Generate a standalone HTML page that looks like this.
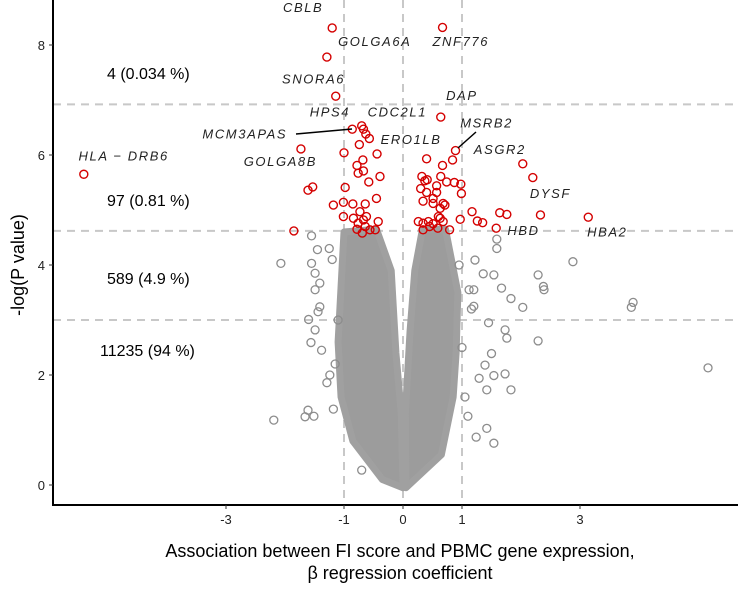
<!DOCTYPE html>
<html><head><meta charset="utf-8">
<style>
html,body{margin:0;padding:0;background:#fff;}
svg{display:block;font-family:"Liberation Sans",Arial,sans-serif;}
.gl{font-style:italic;font-size:13px;fill:#222;letter-spacing:1.6px;}
.ann{font-size:16px;fill:#000;}
.tk{font-size:13px;fill:#222;}
</style></head>
<body>
<svg id="chart" width="744" height="593" viewBox="0 0 744 593" xmlns="http://www.w3.org/2000/svg">
<g id="grid"></g>
<g id="core"></g>
<g id="gray"></g>
<g id="red"></g>
<g id="axes"></g>
<g id="labels"></g>
<text class="ann" x="107" y="79">4 (0.034 %)</text>
<text class="ann" x="107" y="206">97 (0.81 %)</text>
<text class="ann" x="107" y="284">589 (4.9 %)</text>
<text class="ann" x="100" y="356">11235 (94 %)</text>
<text x="0" y="0" transform="translate(24,265) rotate(-90)" text-anchor="middle" font-size="18" fill="#000">-log(P value)</text>
<text x="400" y="557" text-anchor="middle" font-size="18" fill="#000">Association between FI score and PBMC gene expression,</text>
<text x="400" y="579" text-anchor="middle" font-size="18" fill="#000">β regression coefficient</text>
</svg>
<script>
const xTicks=[-3,-1,0,1,3];
const yTicks=[0,2,4,6,8];
const vLines=[-1,0,1];
const hLines=[6.92,4.62,3.0];
const leftLobeX=[-1.0,-0.45,-0.2,-0.12,-0.03,0,-0.35,-0.85,-1.05,-1.1,-1.05];
const leftLobeY=[4.6,4.65,3.9,2.4,1.3,-0.05,0.1,0.8,1.6,2.6,3.6];
const rightLobeX=[0.04,0.12,0.2,0.33,0.72,0.93,0.9,0.85,0.65,0.05];
const rightLobeY=[1.3,2.8,3.9,4.65,4.65,3.5,2.4,1.6,0.55,-0.05];
const grayX=[-2.19,-1.66,-1.51,-1.61,-1.18,-2.07,-1.55,-1.45,-1.55,-1.49,-1.41,-1.49,-1.41,-1.44,-1.60,-1.49,-1.56,-1.38,-1.24,-1.29,-1.2,-1.25,-0.70,1.59,1.59,2.88,2.29,2.38,2.39,1.83,2.03,1.67,1.54,1.36,1.22,1.45,1.73,1.76,2.29,1.50,1.39,1.73,1.54,1.83,1.42,1.29,1.42,1.24,1.54,1.10,1.12,1.2,1.16,1.2,3.9,3.87,5.17,-1.1,-1.15,1.0,1.05,0.95];
const grayY=[1.18,1.24,1.25,1.36,1.38,4.03,4.53,4.28,4.03,3.85,3.67,3.55,3.24,3.15,3.01,2.82,2.59,2.45,2.0,1.86,4.1,4.3,0.27,4.47,4.30,4.06,3.82,3.61,3.55,3.39,3.23,3.58,3.82,3.84,4.09,2.95,2.82,2.67,2.62,2.39,2.18,2.02,1.99,1.73,1.73,1.94,1.03,0.87,0.76,1.25,3.55,3.55,3.2,3.25,3.32,3.23,2.13,3.0,2.2,2.5,1.6,4.0];
const redX=[-1.20,-1.29,-1.14,-0.86,-5.41,-1.73,-1.61,-1.53,-1.85,-0.70,-0.67,-0.63,-0.57,-0.74,-1.00,-0.44,-0.68,-0.78,-0.67,-0.76,-0.39,-0.58,-0.98,-0.45,-1.18,-1.01,-0.85,-0.64,-0.73,-1.01,-0.84,-0.67,-0.42,-0.78,-0.56,-0.47,-0.64,-0.76,-0.62,-0.69,
0.67,0.64,0.89,0.84,0.40,0.67,2.03,2.20,0.64,0.32,0.37,0.41,0.74,0.87,0.98,0.57,0.30,0.99,0.57,0.40,0.51,0.34,0.51,0.68,0.71,0.63,1.17,1.64,1.76,2.33,3.14,0.60,0.97,1.26,1.35,0.63,0.68,0.26,0.34,0.43,0.51,0.34,0.59,0.79,1.58,0.45];
const redY=[8.31,7.78,7.07,6.47,5.65,6.11,5.36,5.42,4.62,6.53,6.47,6.38,6.30,6.19,6.04,6.02,5.91,5.81,5.71,5.67,5.61,5.51,5.41,5.21,5.09,5.14,5.11,5.11,4.97,4.88,4.85,4.82,4.79,4.65,4.64,4.64,4.70,4.76,4.88,4.58,
8.32,6.69,6.08,5.91,5.93,5.81,5.84,5.59,5.61,5.61,5.53,5.55,5.51,5.50,5.47,5.44,5.39,5.30,5.32,5.32,5.21,5.16,5.12,5.12,5.09,5.03,4.97,4.95,4.92,4.91,4.87,4.88,4.83,4.80,4.77,4.85,4.79,4.79,4.76,4.79,4.75,4.64,4.67,4.64,4.67,4.70];
const geneNames=["CBLB","GOLGA6A","ZNF776","SNORA6","DAP","HPS4","CDC2L1","MCM3APAS","MSRB2","ERO1LB","ASGR2","HLA − DRB6","GOLGA8B","DYSF","HBD","HBA2"];
const geneLX=[-1.35,-1.1,0.5,-2.05,0.73,-1.58,-0.6,-3.4,0.97,-0.38,1.2,-5.5,-2.7,2.15,1.77,3.12];
const geneLY=[8.6,7.98,7.98,7.3,7.0,6.7,6.7,6.3,6.5,6.2,6.02,5.9,5.8,5.22,4.55,4.52];
const geneAnchor=["end","start","start","start","start","start","start","start","start","start","start","start","start","start","start","start"];

const NS='http://www.w3.org/2000/svg';
const X0=403,XS=59,Y0=485,YS=55,L=53,R=738,B=505;
const sx=v=>X0+v*XS, sy=v=>Y0-v*YS;
function mk(tag,attrs,parent){const e=document.createElementNS(NS,tag);for(const k in attrs)e.setAttribute(k,attrs[k]);parent.appendChild(e);return e;}
const grid=document.getElementById('grid');
vLines.forEach(v=>{const e=mk('line',{x1:sx(v),x2:sx(v),y1:0,y2:B,stroke:'#c8c8c8','stroke-width':2,'stroke-dasharray':'8,6'},grid);

});
hLines.forEach(v=>{const e=mk('line',{x1:L,x2:R,y1:sy(v),y2:sy(v),stroke:'#c8c8c8','stroke-width':2,'stroke-dasharray':'8,6'},grid);

});
const core=document.getElementById('core');
[[leftLobeX,leftLobeY],[rightLobeX,rightLobeY]].forEach(([xs,ys])=>{
const pts=xs.map((x,i)=>sx(x)+','+sy(ys[i])).join(' ');
const e=mk('polygon',{points:pts,fill:'#9c9c9c',stroke:'#a0a0a0','stroke-width':7,'stroke-linejoin':'round'},core);

});
const gray=document.getElementById('gray');
grayX.forEach((x,i)=>{const e=mk('circle',{cx:sx(x),cy:sy(grayY[i]),r:4,fill:'none',stroke:'#8c8c8c','stroke-width':1.3},gray);

});
const red=document.getElementById('red');
redX.forEach((x,i)=>{const e=mk('circle',{cx:sx(x),cy:sy(redY[i]),r:4,fill:'none',stroke:'#d40000','stroke-width':1.4},red);

});
const axes=document.getElementById('axes');
mk('line',{x1:L,x2:L,y1:0,y2:B+1,stroke:'#000','stroke-width':2},axes);
mk('line',{x1:L-1,x2:R,y1:B,y2:B,stroke:'#000','stroke-width':2},axes);
xTicks.forEach(v=>{mk('line',{x1:sx(v),x2:sx(v),y1:B,y2:B+4,stroke:'#333'},axes);
const t=mk('text',{x:sx(v),y:B+19,'text-anchor':'middle',class:'tk'},axes);t.textContent=v;

});
yTicks.forEach(v=>{mk('line',{x1:L-4,x2:L,y1:sy(v),y2:sy(v),stroke:'#333'},axes);
const t=mk('text',{x:L-8,y:sy(v)+5,'text-anchor':'end',class:'tk'},axes);t.textContent=v;

});
const labels=document.getElementById('labels');
geneNames.forEach((g,i)=>{const t=mk('text',{x:sx(geneLX[i]),y:sy(geneLY[i]),'text-anchor':geneAnchor[i],class:'gl'},labels);t.textContent=g;

});
mk('line',{x1:296,y1:134,x2:352,y2:129,stroke:'#000','stroke-width':1.5},labels);
mk('line',{x1:476,y1:132,x2:458,y2:148,stroke:'#000','stroke-width':1.5},labels);
</script>
</body></html>
